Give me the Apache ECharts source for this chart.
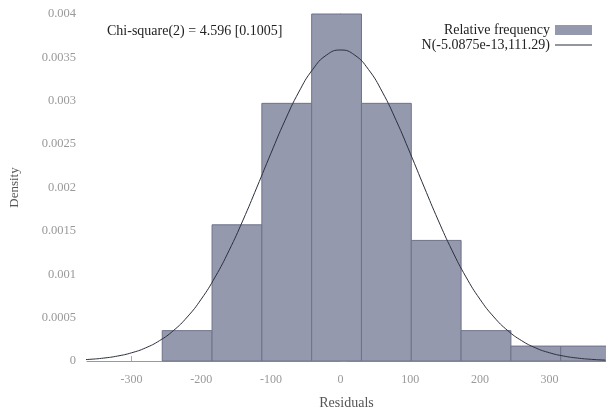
<!DOCTYPE html>
<html>
<head>
<meta charset="utf-8">
<script src="https://cdn.jsdelivr.net/npm/echarts@6/dist/echarts.min.js"></script>
<style>
html,body{margin:0;padding:0;background:#fff;}
#chart{width:606px;height:415px;}
</style>
</head>
<body>
<div id="chart"></div>
<script>
// Histogram bin edges (residuals) and relative-frequency densities
const binStarts = [-256, -184.5, -113, -41.5, 30, 101.5, 173, 244.5, 316];
const binEnds   = [-184.5, -113, -41.5, 30, 101.5, 173, 244.5, 316, 387.5];
const densities = [0.00035, 0.00157, 0.00297, 0.00400, 0.00297, 0.00139, 0.00035, 0.000172, 0.000172];

// Fitted normal curve
const curveX = [-380,-360,-340,-320,-300,-280,-260,-240,-220,-200,-180,-160,-140,-120,-100,-80,-60,-40,-20,0,20,40,60,80,100,120,140,160,180,200,220,240,260,280,300,320,340,360,380];
const curveY = [0.0000105,0.0000192,0.0000337,0.0000574,0.0000947,0.000151,0.000234,0.000350,0.000508,0.000713,0.000969,0.001275,0.001625,0.002005,0.002394,0.002769,0.003100,0.003361,0.003528,0.003585,0.003528,0.003361,0.003100,0.002769,0.002394,0.002005,0.001625,0.001275,0.000969,0.000713,0.000508,0.000350,0.000234,0.000151,0.0000947,0.0000574,0.0000337,0.0000192,0.0000105];

const xTickLabels = [-300, -200, -100, 0, 100, 200, 300];
const yTickLabels = ['0', '0.0005', '0.001', '0.0015', '0.002', '0.0025', '0.003', '0.0035', '0.004'];

const chiText = 'Chi-square(2) = 4.596 [0.1005]';
const histName = 'Relative frequency';
const curveName = 'N(-5.0875e-13,111.29)';

const histData = binStarts.map((s, i) => [s, binEnds[i], densities[i]]);
const curveData = curveX.map((x, i) => [x, curveY[i]]);

const FONT = 'Liberation Serif';
const chart = echarts.init(document.getElementById('chart'), null, {renderer: 'canvas'});
chart.setOption({
  animation: false,
  backgroundColor: '#ffffff',
  textStyle: {fontFamily: FONT},
  title: {
    text: chiText,
    left: 102, top: 19,
    textStyle: {fontFamily: FONT, fontSize: 14, fontWeight: 'normal', color: '#222'}
  },
  legend: {
    right: 9, top: 18,
    orient: 'vertical',
    align: 'right',
    itemWidth: 37, itemHeight: 10,
    itemGap: 1,
    symbolKeepAspect: true,
    textStyle: {fontFamily: FONT, fontSize: 14, color: '#222'},
    data: [
      {name: histName, icon: 'rect'},
      {name: curveName, icon: 'path://M0,0 L37,0 L37,1.2 L0,1.2 Z'}
    ]
  },
  grid: {left: 84, right: 0, top: 14, bottom: 52, containLabel: false},
  xAxis: {
    type: 'value',
    min: -364, max: 381,
    name: 'Residuals',
    nameLocation: 'middle',
    nameGap: 35,
    nameTextStyle: {fontFamily: FONT, fontSize: 14, color: '#555'},
    axisLine: {show: true, onZero: false, lineStyle: {color: '#999', width: 1}},
    axisTick: {show: true, inside: true, length: 5, customValues: xTickLabels, lineStyle: {color: '#aaa'}},
    axisLabel: {customValues: xTickLabels, fontFamily: FONT, fontSize: 12, color: '#999', margin: 13},
    splitLine: {show: false}
  },
  yAxis: {
    type: 'value',
    min: 0, max: 0.004, interval: 0.0005,
    name: 'Density',
    nameLocation: 'middle',
    nameGap: 66,
    nameTextStyle: {fontFamily: FONT, fontSize: 13, color: '#555'},
    axisLine: {show: true, lineStyle: {color: '#999', width: 1}},
    axisTick: {show: true, inside: true, length: 6, lineStyle: {color: '#aaa'}},
    axisLabel: {
      fontFamily: FONT, fontSize: 12.5, color: '#999', margin: 11,
      formatter: function (v) {
        const idx = Math.round(v / 0.0005);
        return yTickLabels[idx] !== undefined ? yTickLabels[idx] : '';
      }
    },
    splitLine: {show: false}
  },
  series: [
    {
      name: histName,
      type: 'custom',
      itemStyle: {color: '#9599ae'},
      renderItem: function (params, api) {
        const p0 = api.coord([api.value(0), api.value(2)]);
        const p1 = api.coord([api.value(1), 0]);
        return {
          type: 'rect',
          shape: {x: p0[0], y: p0[1], width: p1[0] - p0[0], height: p1[1] - p0[1]},
          style: {fill: '#9599ae', stroke: '#6e7389', lineWidth: 1}
        };
      },
      encode: {x: [0, 1], y: 2},
      data: histData,
      z: 1
    },
    {
      name: curveName,
      type: 'line',
      data: curveData,
      smooth: true,
      symbol: 'none',
      lineStyle: {color: '#2b2f3d', width: 1},
      itemStyle: {color: '#2b2f3d'},
      z: 3
    }
  ]
});
</script>
</body>
</html>
